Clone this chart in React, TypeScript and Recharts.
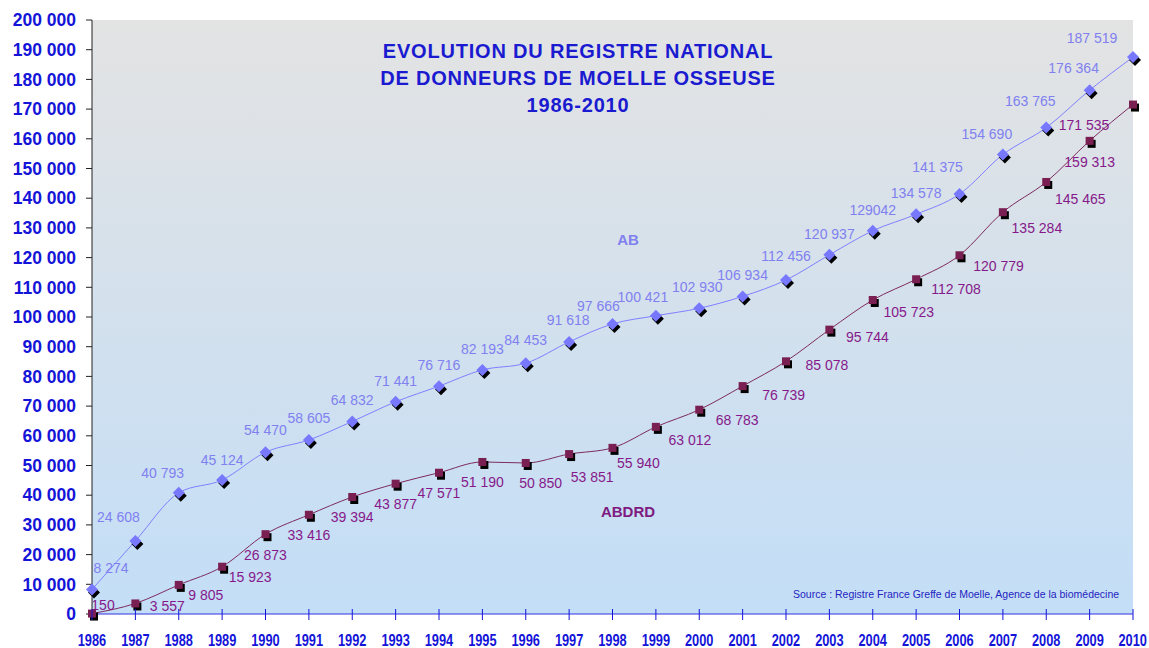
import React from 'react';
import { LineChart, Line, XAxis, YAxis, CartesianGrid } from 'recharts';

const YEARS = ['1986', '1987', '1988', '1989', '1990', '1991', '1992', '1993', '1994', '1995', '1996', '1997', '1998', '1999', '2000', '2001', '2002', '2003', '2004', '2005', '2006', '2007', '2008', '2009', '2010'];
const AB = [8274, 24608, 40793, 45124, 54470, 58605, 64832, 71441, 76716, 82193, 84453, 91618, 97666, 100421, 102930, 106934, 112456, 120937, 129042, 134578, 141375, 154690, 163765, 176364, 187519];
const ABDRD = [150, 3557, 9805, 15923, 26873, 33416, 39394, 43877, 47571, 51190, 50850, 53851, 55940, 63012, 68783, 76739, 85078, 95744, 105723, 112708, 120779, 135284, 145465, 159313, 171535];
const Y_TICKS = [0, 10000, 20000, 30000, 40000, 50000, 60000, 70000, 80000, 90000, 100000, 110000, 120000, 130000, 140000, 150000, 160000, 170000, 180000, 190000, 200000];
const UNGROUPED_LABELS = new Set([129042]);

const TITLE_LINES = ['EVOLUTION DU REGISTRE NATIONAL', 'DE DONNEURS DE MOELLE OSSEUSE', '1986-2010'];
const SOURCE = 'Source : Registre France Greffe de Moelle, Agence de la biomédecine';

const data = YEARS.map((year, i) => ({ year, ab: AB[i], abdrd: ABDRD[i] }));

// label placement offsets (dx, dy) from each point
const AB_OFF: [number, number][] = [
  [19, -21], [-17, -24], [-16, -20], [0, -20], [0, -22], [0, -22], [0, -21], [0, -21], [0, -21], [0, -21],
  [0, -23], [-1, -22], [-14, -18], [-13, -19], [-2, -21], [0, -21], [0, -24], [0, -21], [0, -21], [0, -21],
  [-22, -27], [-16, -21], [-16, -27], [-16, -22], [-41, -19],
];
const ABDRD_OFF: [number, number][] = [
  [11, -9], [32, 3], [27, 10], [28, 10], [0, 21], [0, 20], [0, 20], [0, 20], [0, 20], [0, 20],
  [15, 20], [23, 23], [26, 15], [34, 13], [38, 10], [41, 9], [41, 4], [38, 7], [36, 12], [40, 10],
  [39, 11], [34, 16], [34, 17], [0, 21], [-49, 20],
];

const fmt = (v: number) => {
  if (UNGROUPED_LABELS.has(v) || v < 1000) return String(v);
  return `${Math.floor(v / 1000)} ${String(v % 1000).padStart(3, '0')}`;
};

const FONT = '"Liberation Sans", Arial, sans-serif';
const AB_COLOR = '#8080ff';
const AB_TEXT = '#8080f0';
const ABDRD_LINE = '#7d2a5e';
const ABDRD_FILL = '#7a1f52';
const ABDRD_TEXT = '#86198a';
const AXIS_BLUE = '#1414d8';

const Diamond = (props: any) => {
  const { cx, cy, index } = props;
  if (cx == null || cy == null) return <g key={`d-${index}`} />;
  const s = 6;
  const p = (x: number, y: number) => `M${x},${y - s}L${x + s},${y}L${x},${y + s}L${x - s},${y}Z`;
  return (
    <g key={`d-${index}`}>
      <path d={p(cx + 2, cy + 3)} fill="#000" />
      <path d={p(cx, cy)} fill="#7878ff" />
    </g>
  );
};

const Square = (props: any) => {
  const { cx, cy, index } = props;
  if (cx == null || cy == null) return <g key={`s-${index}`} />;
  return (
    <g key={`s-${index}`}>
      <rect x={cx - 4 + 2} y={cy - 4 + 3} width={8} height={8} fill="#000" />
      <rect x={cx - 4} y={cy - 4} width={8} height={8} fill={ABDRD_FILL} />
    </g>
  );
};

const makeLabel = (offs: [number, number][], color: string) => (props: any) => {
  const { x, y, value, index } = props;
  const [dx, dy] = offs[index] || [0, 0];
  return (
    <text
      key={`l-${index}`}
      x={x + dx}
      y={y + dy}
      textAnchor="middle"
      dominantBaseline="central"
      fill={color}
      fontFamily={FONT}
      fontSize={14}
    >
      {fmt(value)}
    </text>
  );
};

const XTick = (props: any) => {
  const { x, payload, index } = props;
  const last = index === YEARS.length - 1;
  return (
    <g>
      <line x1={x} x2={x} y1={614 - 5} y2={614 + 6} stroke={AXIS_BLUE} strokeWidth={1} />
      <text
        x={last ? x + 14 : x}
        y={640}
        textAnchor={last ? 'end' : 'middle'}
        dominantBaseline="central"
        fill={AXIS_BLUE}
        fontFamily={FONT}
        fontWeight="bold"
        fontSize={17}
        textLength={28.5}
        lengthAdjust="spacingAndGlyphs"
      >
        {payload.value}
      </text>
    </g>
  );
};

export default function App() {
  return (
    <div style={{ position: 'relative', width: 1149, height: 648, background: '#fff' }}>
      <style>{'body{margin:0;}'}</style>
      <LineChart width={1149} height={648} data={data} margin={{ top: 20, right: 16, left: 0, bottom: 0 }}>
        <defs>
          <linearGradient id="bgGrad" x1="0" y1="0" x2="0" y2="1">
            <stop offset="0%" stopColor="#e3e3e3" />
            <stop offset="100%" stopColor="#c3def7" />
          </linearGradient>
        </defs>
        <CartesianGrid horizontal={false} vertical={false} fill="url(#bgGrad)" />
        <XAxis
          dataKey="year"
          height={34}
          axisLine={{ stroke: '#3030e0', strokeWidth: 1 }}
          tickLine={false}
          tickSize={0}
          tickMargin={0}
          interval={0}
          tick={<XTick />}
        />
        <YAxis
          width={92}
          domain={[0, 200000]}
          ticks={Y_TICKS}
          interval={0}
          axisLine={{ stroke: '#222', strokeWidth: 1 }}
          tickLine={{ stroke: '#222', strokeWidth: 1 }}
          tickSize={6}
          tickMargin={10}
          tickFormatter={(v: number) => fmt(v)}
          tick={{ fill: AXIS_BLUE, fontFamily: FONT, fontWeight: 'bold', fontSize: 17.5 }}
        />
        <Line
          type="monotone"
          dataKey="ab"
          stroke={AB_COLOR}
          strokeWidth={1}
          dot={Diamond}
          activeDot={false}
          label={makeLabel(AB_OFF, AB_TEXT)}
          isAnimationActive={false}
        />
        <Line
          type="monotone"
          dataKey="abdrd"
          stroke={ABDRD_LINE}
          strokeWidth={1}
          dot={Square}
          activeDot={false}
          label={makeLabel(ABDRD_OFF, ABDRD_TEXT)}
          isAnimationActive={false}
        />
      </LineChart>
      <div
        style={{
          position: 'absolute',
          left: 328,
          top: 38,
          width: 500,
          textAlign: 'center',
          color: '#1a1ad0',
          fontFamily: FONT,
          fontWeight: 'bold',
          fontSize: 20,
          letterSpacing: 0.8,
          lineHeight: '27px',
        }}
      >
        {TITLE_LINES.map((t) => (
          <div key={t}>{t}</div>
        ))}
      </div>
      <div style={{ position: 'absolute', left: 598, top: 231, width: 60, textAlign: 'center', color: '#8080ee', fontFamily: FONT, fontWeight: 'bold', fontSize: 15 }}>AB</div>
      <div style={{ position: 'absolute', left: 588, top: 503, width: 80, textAlign: 'center', color: '#7e1a80', fontFamily: FONT, fontWeight: 'bold', fontSize: 15 }}>ABDRD</div>
      <div style={{ position: 'absolute', left: 793, top: 588, whiteSpace: 'nowrap', color: '#2424c0', fontFamily: FONT, fontSize: 10.5 }}>{SOURCE}</div>
    </div>
  );
}
